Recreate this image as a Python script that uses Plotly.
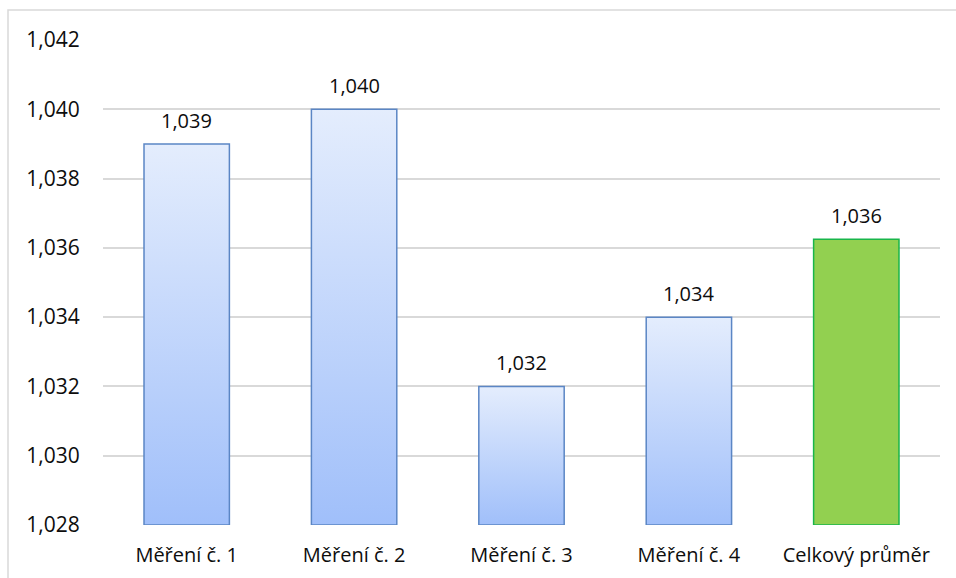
import plotly.graph_objects as go

categories = ["Měření č. 1", "Měření č. 2", "Měření č. 3", "Měření č. 4", "Celkový průměr"]
values = [1.039, 1.040, 1.032, 1.034, 1.03625]
y_min, y_max, y_step = 1.028, 1.042, 0.002

BAR_WIDTH = 0.51
FONT = "Open Sans"
FONT_SIZE = 21
TEXT_COLOR = "#0d0d0d"

blue_style = dict(line="#5b86c5", scale=[[0, "#a0bffa"], [1, "#e4edfd"]])
green_style = dict(line="#19b54a", scale=[[0, "#92d050"], [1, "#92d050"]])
styles = [blue_style] * 4 + [green_style]


def fmt(v):
    return f"{v:.3f}".replace(".", ",")


fig = go.Figure()

# Each column is a filled rectangle so the vertical gradient can be applied
for i, (v, st) in enumerate(zip(values, styles)):
    x0, x1 = i - BAR_WIDTH / 2, i + BAR_WIDTH / 2
    fig.add_trace(go.Scatter(
        x=[x0, x0, x1, x1, x0],
        y=[y_min, v, v, y_min, y_min],
        mode="lines",
        fill="toself",
        fillgradient=dict(type="vertical", colorscale=st["scale"]),
        line=dict(color=st["line"], width=1.5),
        hoverinfo="skip",
        showlegend=False,
    ))
    fig.add_annotation(
        x=i, y=v, text=fmt(v), showarrow=False,
        yanchor="bottom", yshift=8,
        font=dict(family=FONT, size=FONT_SIZE - 1, color=TEXT_COLOR),
    )

ticks = []
t = y_min
while t <= y_max + 1e-9:
    ticks.append(round(t, 3))
    t += y_step

fig.update_layout(
    width=956, height=578,
    margin=dict(l=103, r=16, t=40, b=53),
    paper_bgcolor="white", plot_bgcolor="white",
    separators=", ",
    font=dict(family=FONT, size=FONT_SIZE, color=TEXT_COLOR),
    xaxis=dict(
        range=[-0.5, len(categories) - 0.5],
        tickvals=list(range(len(categories))),
        ticktext=categories,
        showgrid=False, zeroline=False, showline=False,
        ticks="outside", ticklen=12, tickcolor="rgba(0,0,0,0)",
        tickfont=dict(family=FONT, size=FONT_SIZE - 1, color=TEXT_COLOR),
        automargin=False,
    ),
    yaxis=dict(
        range=[y_min, y_max],
        tickvals=ticks,
        ticktext=[fmt(v) for v in ticks],
        showgrid=True, gridcolor="#d9d9d9", gridwidth=1.5,
        zeroline=False, showline=False,
        ticks="outside", ticklen=18, tickcolor="rgba(0,0,0,0)",
        tickfont=dict(family=FONT, size=FONT_SIZE, color=TEXT_COLOR),
        automargin=False,
    ),
    shapes=[dict(
        type="rect", xref="paper", yref="paper",
        x0=(8 - 103) / 837, x1=1.1, y0=-0.2, y1=1 + 30 / 485,
        line=dict(color="#d9d9d9", width=1.5), layer="below",
    )],
)

fig.write_html("out.html")
